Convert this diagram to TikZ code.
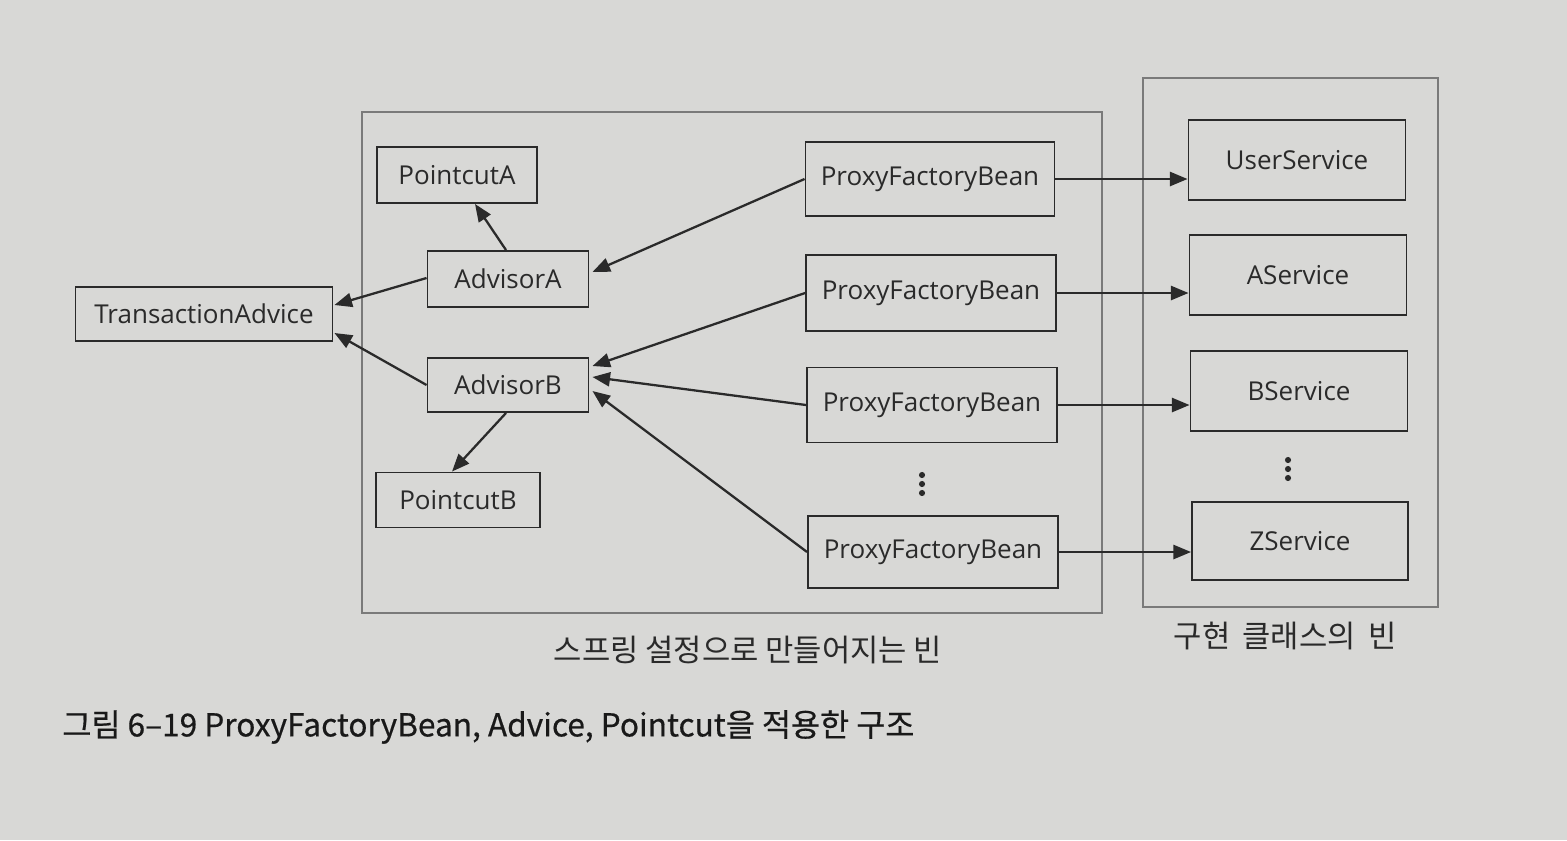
\documentclass[tikz,border=0pt]{standalone}
\usepackage{fontspec}
\setmainfont{Open Sans}
\newfontfamily\kr{Noto Sans CJK KR}
\newfontfamily\krcap[FakeBold=0.5]{Noto Sans CJK KR}
\usetikzlibrary{calc,arrows.meta}
\definecolor{bg}{HTML}{D8D8D6}
\definecolor{ink}{HTML}{2A2A2A}
\definecolor{frame}{HTML}{7A7A7A}
\begin{document}
\begin{tikzpicture}[x=0.02cm,y=-0.02cm,
  bean/.style={draw=ink,line width=1.1pt,inner sep=0pt,text=ink,font=\fontsize{14.8}{17}\selectfont},
  arr/.style={draw=ink,line width=1.3pt,-{Triangle[length=10pt,width=8pt]}},
  cont/.style={draw=frame,line width=1.6pt},
  vdot/.style={fill=ink,circle,inner sep=0pt,minimum size=3.5pt}]
\fill[bg] (0,0) rectangle (1567,840);
\useasboundingbox (0,0) rectangle (1567,840);
% containers
\node[cont,minimum width=740*0.02cm,minimum height=501*0.02cm] (spring) at (732,362.5) {};
\node[cont,minimum width=295*0.02cm,minimum height=529*0.02cm] (impl) at (1290.5,342.5) {};
% left beans
\node[bean,minimum width=160*0.02cm,minimum height=56*0.02cm] (ptA) at (457,175) {PointcutA};
\node[bean,minimum width=161*0.02cm,minimum height=56*0.02cm] (advA) at (508,279) {AdvisorA};
\node[bean,minimum width=257*0.02cm,minimum height=54*0.02cm] (ta) at (204,314) {TransactionAdvice};
\node[bean,minimum width=161*0.02cm,minimum height=54*0.02cm] (advB) at (508,385) {AdvisorB};
\node[bean,minimum width=164*0.02cm,minimum height=55*0.02cm] (ptB) at (458,500) {PointcutB};
% proxy factory beans
\node[bean,minimum width=249*0.02cm,minimum height=74*0.02cm] (pf1) at (930,179) {ProxyFactoryBean};
\node[bean,minimum width=250*0.02cm,minimum height=76*0.02cm] (pf2) at (931,293) {ProxyFactoryBean};
\node[bean,minimum width=250*0.02cm,minimum height=75*0.02cm] (pf3) at (932,405) {ProxyFactoryBean};
\node[bean,minimum width=250*0.02cm,minimum height=72*0.02cm] (pf4) at (933,552) {ProxyFactoryBean};
\node[vdot] (d1a) at (922,475) {};
\node[vdot] (d1b) at (922,484) {};
\node[vdot] (d1c) at (922,493) {};
% services
\node[bean,minimum width=217*0.02cm,minimum height=80*0.02cm] (us) at (1297,160) {UserService};
\node[bean,minimum width=217*0.02cm,minimum height=80*0.02cm] (as) at (1298,275) {AService};
\node[bean,minimum width=217*0.02cm,minimum height=80*0.02cm] (bs) at (1299,391) {BService};
\node[bean,minimum width=216*0.02cm,minimum height=78*0.02cm] (zs) at (1300,541) {ZService};
\node[vdot] (d2a) at (1288,460) {};
\node[vdot] (d2b) at (1288,469) {};
\node[vdot] (d2c) at (1288,478) {};
% arrows within spring
\draw[arr] ($(advA.north)+(-2,0)$) -- ($(ptA.south)+(18,0)$);
\draw[arr] ($(advA.west)+(0,-1)$) -- ($(ta.east)+(1,-9)$);
\draw[arr] (advB.west) -- ($(ta.east)+(1,19)$);
\draw[arr] ($(advB.south)+(-2,0)$) -- ($(ptB.north)+(-6,0)$);
\draw[arr] (pf1.west) -- ($(advA.east)+(3,-7)$);
\draw[arr] (pf2.west) -- ($(advB.east)+(3,-19)$);
\draw[arr] (pf3.west) -- ($(advB.east)+(3,-8)$);
\draw[arr] (pf4.west) -- ($(advB.east)+(3,6)$);
% arrows to services
\draw[arr] (pf1.east) -- (pf1.east -| us.west);
\draw[arr] (pf2.east) -- (pf2.east -| as.west);
\draw[arr] (pf3.east) -- (pf3.east -| bs.west);
\draw[arr] (pf4.east) -- (pf4.east -| zs.west);
% labels
\node[text=ink,font=\kr\fontsize{17.5}{20}\selectfont] (lspring) at (748,650) {스프링 설정으로 만들어지는 빈};
\node[text=ink,font=\kr\fontsize{17.5}{20}\selectfont] (limpl) at (1285,636) {구현\hspace{0.4em}클래스의\hspace{0.4em}빈};
\node[anchor=west,text=black!90,font=\krcap\fontsize{18}{21}\selectfont,inner sep=0pt] (cap) at (62,727) {그림 6–19 ProxyFactoryBean, Advice, Pointcut을 적용한 구조};
\end{tikzpicture}
\end{document}
